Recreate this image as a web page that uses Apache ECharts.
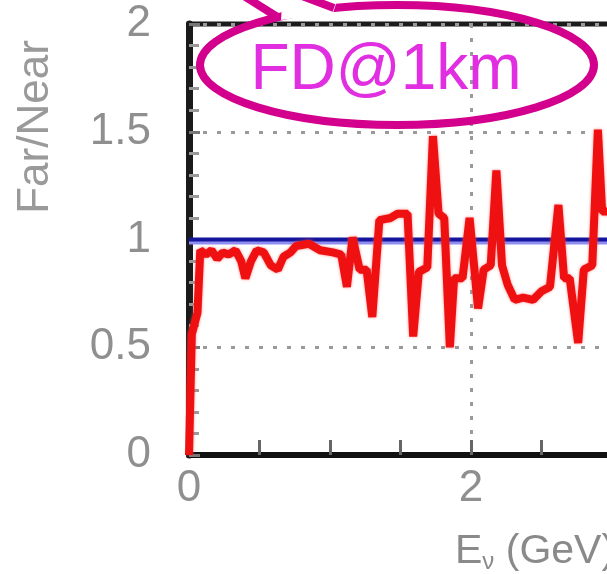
<!DOCTYPE html>
<html>
<head>
<meta charset="utf-8">
<script src="https://cdn.jsdelivr.net/npm/echarts@6/dist/echarts.min.js"></script>
<style>
  html, body { margin: 0; padding: 0; background: #fff; }
  #chart { width: 607px; height: 574px; }
</style>
</head>
<body>
<div id="chart"></div>
<script>
// Far/Near spectrum ratio, far detector at 1 km
const energy = [0.00, 0.02, 0.06, 0.08, 0.12, 0.16, 0.20, 0.24, 0.28, 0.33,
  0.37, 0.40, 0.44, 0.48, 0.53, 0.58, 0.63, 0.67, 0.72, 0.76,
  0.85, 0.93, 1.02, 1.08, 1.12, 1.16, 1.21, 1.26, 1.30, 1.35,
  1.43, 1.48, 1.55, 1.59, 1.63, 1.69, 1.73, 1.77, 1.81, 1.85,
  1.88, 1.94, 1.99, 2.05, 2.09, 2.14, 2.18, 2.22, 2.26, 2.31,
  2.37, 2.44, 2.50, 2.56, 2.62, 2.66, 2.70, 2.76, 2.80, 2.86,
  2.90, 2.93, 3.00];
const ratio = [0.00, 0.56, 0.66, 0.95, 0.93, 0.95, 0.91, 0.94, 0.93, 0.95,
  0.90, 0.82, 0.90, 0.95, 0.94, 0.88, 0.86, 0.92, 0.94, 0.97,
  0.98, 0.95, 0.94, 0.93, 0.78, 1.01, 0.86, 0.86, 0.64, 1.09,
  1.10, 1.12, 1.12, 0.55, 0.85, 0.87, 1.48, 1.12, 1.10, 0.50,
  0.82, 0.82, 1.10, 0.68, 0.86, 0.88, 1.32, 0.88, 0.79, 0.72,
  0.73, 0.72, 0.76, 0.78, 1.16, 0.82, 0.82, 0.52, 0.86, 0.88,
  1.51, 1.13, 1.13];
// reference level (no oscillation)
const unityX = [0, 4];
const unityY = [1, 1];

const xTicks = [0, 2, 4];
const yTicks = [0, 0.5, 1, 1.5, 2];
const yTitle = 'Far/Near';
const tag = 'FD@1km';

const chart = echarts.init(document.getElementById('chart'), null, { renderer: 'canvas' });

const grey = '#8f8f8f';
const font = 'Liberation Sans, Arial, sans-serif';

chart.setOption({
  animation: false,
  backgroundColor: '#ffffff',
  grid: {
    left: 189, top: 24, width: 564, height: 431,
    outerBoundsMode: 'none', containLabel: false,
    show: true, borderColor: '#1c1c1c', borderWidth: 5, backgroundColor: 'transparent'
  },
  xAxis: {
    type: 'value', min: xTicks[0], max: xTicks[xTicks.length - 1], interval: 2,
    axisLine: { show: true, onZero: false, lineStyle: { color: '#111', width: 6 } },
    axisTick: { show: true, inside: true, length: 15, lineStyle: { color: '#666', width: 3 } },
    minorTick: { show: true, splitNumber: 4, length: 15, lineStyle: { color: '#666', width: 3 } },
    axisLabel: {
      color: grey, fontSize: 44, fontFamily: font, margin: 12,
      formatter: v => xTicks.includes(v) ? String(v) : ''
    },
    splitLine: { show: true, lineStyle: { color: '#9a9a9a', width: 3, type: [4, 10] } }
  },
  yAxis: {
    type: 'value', min: yTicks[0], max: yTicks[yTicks.length - 1], interval: 0.5,
    axisLine: { show: true, onZero: false, lineStyle: { color: '#1a1a1a', width: 7 } },
    axisTick: { show: true, inside: true, length: 11, lineStyle: { color: '#777', width: 3 } },
    minorTick: { show: true, splitNumber: 5, length: 10, lineStyle: { color: '#999', width: 3 } },
    axisLabel: {
      color: grey, fontSize: 44, fontFamily: font, margin: 38,
      formatter: v => String(v)
    },
    splitLine: { show: true, lineStyle: { color: '#9a9a9a', width: 3, type: [4, 10] } }
  },
  series: [
    {
      type: 'line', name: 'unity', z: 3,
      data: unityX.map((x, i) => [x, unityY[i]]),
      showSymbol: false, silent: true,
      lineStyle: { color: '#14149c', width: 4, shadowColor: '#8d8df2', shadowOffsetY: 3, shadowBlur: 0 }
    },
    {
      type: 'line', name: 'ratio', z: 4,
      data: energy.map((e, i) => [e, ratio[i]]),
      showSymbol: false, silent: true,
      lineStyle: { color: '#ef1111', width: 8, shadowColor: 'rgba(255,90,90,0.7)', shadowBlur: 3 }
    }
  ],
  graphic: [
    {
      type: 'text', x: 36, y: 127, rotation: Math.PI / 2, z: 10,
      style: { text: yTitle, fill: '#9a9a9a', font: '44px ' + font, align: 'center', verticalAlign: 'middle' }
    },
    {
      type: 'text', x: 455, y: 552, z: 10,
      style: {
        text: '{a|E}{b|ν}{a| (GeV)}',
        verticalAlign: 'middle',
        rich: {
          a: { fill: '#8a8a8a', fontSize: 41, fontFamily: font },
          b: { fill: '#8a8a8a', fontSize: 24, fontFamily: font, padding: [20, 0, 0, 0] }
        }
      }
    },
    // callout bubble
    {
      type: 'ellipse', z: 20,
      shape: { cx: 397, cy: 65, rx: 197, ry: 60 },
      style: { fill: null, stroke: '#d3008e', lineWidth: 8 }
    },
    {
      type: 'polygon', z: 21,
      shape: { points: [[283, -6], [332, -6], [336, 4], [333, 13], [281, 20]] },
      style: { fill: '#ffffff' }
    },
    {
      type: 'line', z: 22,
      shape: { x1: 279, y1: 18, x2: 244, y2: -4 },
      style: { stroke: '#d3008e', lineWidth: 8 }
    },
    {
      type: 'line', z: 22,
      shape: { x1: 334, y1: 8, x2: 302, y2: -4 },
      style: { stroke: '#d3008e', lineWidth: 8 }
    },
    {
      type: 'text', x: 386, y: 71, z: 23,
      style: { text: tag, fill: '#e02ee0', font: '64px ' + font, align: 'center', verticalAlign: 'middle' }
    }
  ]
});
</script>
</body>
</html>
